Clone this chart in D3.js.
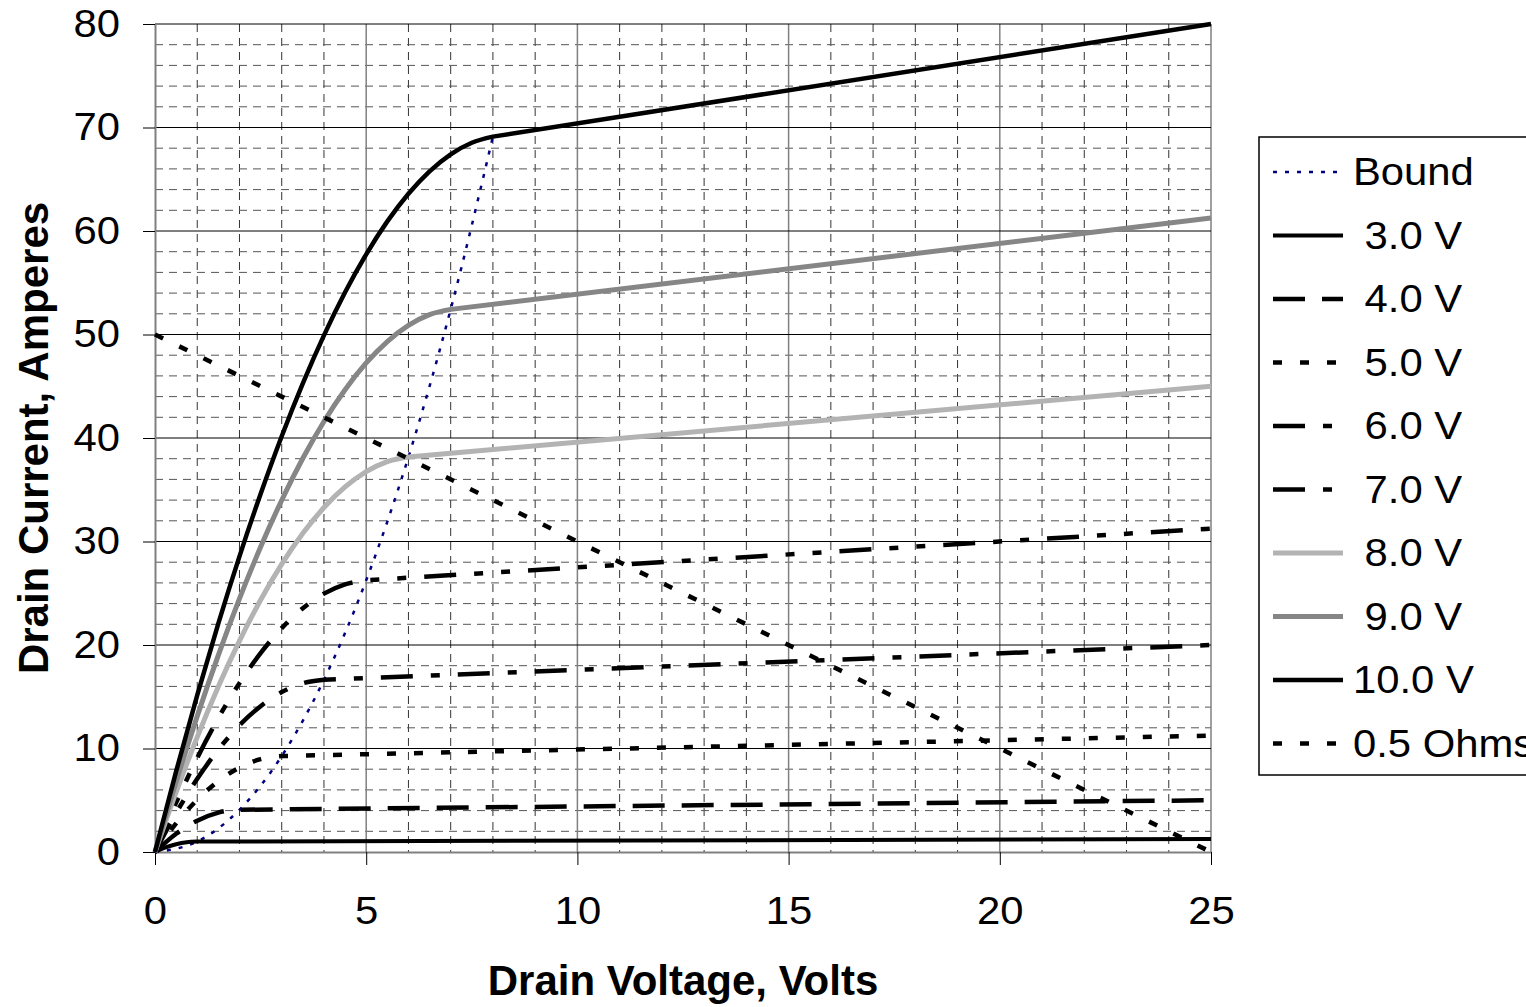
<!DOCTYPE html>
<html>
<head>
<meta charset="utf-8">
<script src="https://d3js.org/d3.v7.min.js"></script>
<style>
  body { margin: 0; background: #fff; }
  svg text { font-family: "Liberation Sans", Arial, sans-serif; fill: #000; }
  .tick text { font-size: 38px; }
  .axis-title { font-size: 42px; font-weight: bold; }
  .legend-label { font-size: 38px; white-space: pre; }
</style>
</head>
<body>
<svg id="chart" width="1526" height="1007"></svg>
<script>
// series values, [drain voltage, drain current]
var bound = [[0, 0], [1, 1.01], [2, 4.08], [3, 9.27], [4, 16.64], [5, 26.25], [6, 38.16], [7, 52.43], [8, 69.12]];
var vgs3 = [[0, 0], [0.25, 0.44], [0.5, 0.75], [0.75, 0.94], [1, 1.01], [25, 1.25]];
var vgs4 = [[0, 0], [0.5, 1.76], [1, 3.03], [1.5, 3.81], [1.75, 4.01], [2, 4.08], [25, 5]];
var vgs5 = [[0, 0], [0.5, 2.76], [1, 5.05], [1.5, 6.85], [2, 8.16], [2.5, 8.97], [3, 9.27], [25, 11.25]];
var vgs6 = [[0, 0], [0.5, 3.77], [1, 7.07], [1.5, 9.9], [2, 12.24], [2.5, 14.09], [3, 15.45], [3.5, 16.3], [4, 16.64], [25, 20]];
var vgs7 = [[0, 0], [0.5, 4.77], [1, 9.09], [1.5, 12.94], [2, 16.32], [2.5, 19.22], [3, 21.63], [3.5, 23.55], [4, 24.96], [4.5, 25.86], [5, 26.25], [25, 31.25]];
var vgs8 = [[0, 0], [0.5, 5.78], [1, 11.11], [1.5, 15.99], [2, 20.4], [2.5, 24.34], [3, 27.81], [3.5, 30.79], [4, 33.28], [4.5, 35.27], [5, 36.75], [5.5, 37.72], [6, 38.16], [25, 45]];
var vgs9 = [[0, 0], [0.5, 6.78], [1, 13.13], [1.5, 19.03], [2, 24.48], [2.5, 29.47], [3, 33.99], [3.5, 38.04], [4, 41.6], [4.5, 44.67], [5, 47.25], [5.5, 49.32], [6, 50.88], [6.5, 51.92], [7, 52.43], [25, 61.25]];
var vgs10 = [[0, 0], [0.5, 7.79], [1, 15.15], [1.5, 22.08], [2, 28.56], [2.5, 34.59], [3, 40.17], [3.5, 45.28], [4, 49.92], [4.5, 54.08], [5, 57.75], [5.5, 60.93], [6, 63.6], [6.5, 65.76], [7, 67.41], [7.5, 68.53], [8, 69.12], [25, 80]];
var ohms = [[0, 50], [25, 0]];

var seriesNames = ["Bound", " 3.0 V", " 4.0 V", " 5.0 V", " 6.0 V", " 7.0 V", " 8.0 V", " 9.0 V", "10.0 V", "0.5 Ohms"];
var seriesData = [bound, vgs3, vgs4, vgs5, vgs6, vgs7, vgs8, vgs9, vgs10, ohms];

var xTicks = [0, 5, 10, 15, 20, 25];
var yTicks = [0, 10, 20, 30, 40, 50, 60, 70, 80];

// line looks, one per series
var styles = [
  {color: "#000080", width: 2.5, dash: "4,8"},
  {color: "#000", width: 4, dash: null},
  {color: "#000", width: 4.5, dash: "32,17"},
  {color: "#000", width: 4.5, dash: "9,18"},
  {color: "#000", width: 4.5, dash: "32,18,9,18"},
  {color: "#000", width: 4.5, dash: "32,18,9,18,9,18"},
  {color: "#b3b3b3", width: 5, dash: null},
  {color: "#868686", width: 5, dash: null},
  {color: "#000", width: 4.5, dash: null},
  {color: "#000", width: 4.5, dash: "9,18"}
];

var svg = d3.select("#chart");
var plotLeft = 155, plotRight = 1211, plotTop = 24, plotBottom = 852;
var stretch = 1.1; // the plain text in the picture is drawn a little wide

var x = d3.scaleLinear().domain([0, 25]).range([plotLeft, plotRight]);
var y = d3.scaleLinear().domain([0, 80]).range([plotBottom, plotTop]);

// grid
var grid = svg.append("g");
grid.selectAll(".vminor")
  .data(d3.range(1, 25).filter(function (d) { return d % 5 !== 0; }))
  .enter().append("line")
  .attr("x1", function (d) { return x(d); }).attr("x2", function (d) { return x(d); })
  .attr("y1", plotTop).attr("y2", plotBottom)
  .attr("stroke", "#333").attr("stroke-width", 1).attr("stroke-dasharray", "8,6");
grid.selectAll(".hminor")
  .data(d3.range(2, 80, 2).filter(function (d) { return d % 10 !== 0; }))
  .enter().append("line")
  .attr("y1", function (d) { return y(d); }).attr("y2", function (d) { return y(d); })
  .attr("x1", plotLeft).attr("x2", plotRight)
  .attr("stroke", "#555").attr("stroke-width", 1).attr("stroke-dasharray", "8,6");
grid.selectAll(".vmajor")
  .data(xTicks.slice(1))
  .enter().append("line")
  .attr("x1", function (d) { return x(d); }).attr("x2", function (d) { return x(d); })
  .attr("y1", plotTop).attr("y2", plotBottom)
  .attr("stroke", "#808080").attr("stroke-width", 1.5);
grid.selectAll(".hmajor")
  .data(yTicks.slice(1))
  .enter().append("line")
  .attr("y1", function (d) { return y(d); }).attr("y2", function (d) { return y(d); })
  .attr("x1", plotLeft).attr("x2", plotRight)
  .attr("stroke", "#000").attr("stroke-width", 1);

// axes
var yAxis = svg.append("g")
  .attr("transform", "translate(" + plotLeft + ",0)")
  .call(d3.axisLeft(y).tickValues(yTicks).tickSize(12).tickSizeOuter(0).tickPadding(23));
yAxis.selectAll(".tick text")
  .attr("x", -35 / stretch)
  .attr("transform", "scale(" + stretch + ",1)");

var xAxis = svg.append("g")
  .attr("transform", "translate(0," + plotBottom + ")")
  .call(d3.axisBottom(x).tickValues(xTicks).tickSize(13).tickSizeOuter(0).tickPadding(32));
xAxis.selectAll(".tick text")
  .attr("transform", "scale(" + stretch + ",1)");

svg.selectAll(".domain").attr("stroke", "#808080").attr("stroke-width", 2);
svg.selectAll(".tick line").attr("stroke", "#000").attr("stroke-width", 1);
svg.selectAll(".tick text").attr("fill", "#000");

// series: smooth through the knee, straight after it
var smooth = d3.line()
  .x(function (d) { return x(d[0]); })
  .y(function (d) { return y(d[1]); })
  .curve(d3.curveMonotoneX);

function seriesPath(d, i) {
  if (i === 0 || d.length < 3) return smooth(d);
  var last = d[d.length - 1];
  return smooth(d.slice(0, -1)) + "L" + x(last[0]) + "," + y(last[1]);
}

svg.append("g").selectAll("path")
  .data(seriesData)
  .enter().append("path")
  .attr("d", seriesPath)
  .attr("fill", "none")
  .attr("stroke", function (d, i) { return styles[i].color; })
  .attr("stroke-width", function (d, i) { return styles[i].width; })
  .attr("stroke-dasharray", function (d, i) { return styles[i].dash; });

// axis titles
svg.append("text")
  .attr("class", "axis-title")
  .attr("x", (plotLeft + plotRight) / 2)
  .attr("y", 995)
  .attr("text-anchor", "middle")
  .text("Drain Voltage, Volts");

svg.append("text")
  .attr("class", "axis-title")
  .attr("transform", "translate(48," + (plotTop + plotBottom) / 2 + ") rotate(-90)")
  .attr("text-anchor", "middle")
  .text("Drain Current, Amperes");

// legend
var legend = svg.append("g");
legend.append("rect")
  .attr("x", 1259).attr("y", 137)
  .attr("width", 320).attr("height", 638)
  .attr("fill", "#fff").attr("stroke", "#000").attr("stroke-width", 1.5);

var rows = legend.selectAll(".row")
  .data(seriesNames)
  .enter().append("g")
  .attr("transform", function (d, i) { return "translate(0," + (172 + i * 63.5) + ")"; });

rows.append("line")
  .attr("x1", 1273).attr("x2", 1343)
  .attr("y1", 0).attr("y2", 0)
  .attr("stroke", function (d, i) { return styles[i].color; })
  .attr("stroke-width", function (d, i) { return styles[i].width; })
  .attr("stroke-dasharray", function (d, i) { return styles[i].dash; });

rows.append("text")
  .attr("class", "legend-label")
  .attr("xml:space", "preserve")
  .attr("transform", "translate(1353,13) scale(" + stretch + ",1)")
  .text(function (d) { return d; });
</script>
</body>
</html>
